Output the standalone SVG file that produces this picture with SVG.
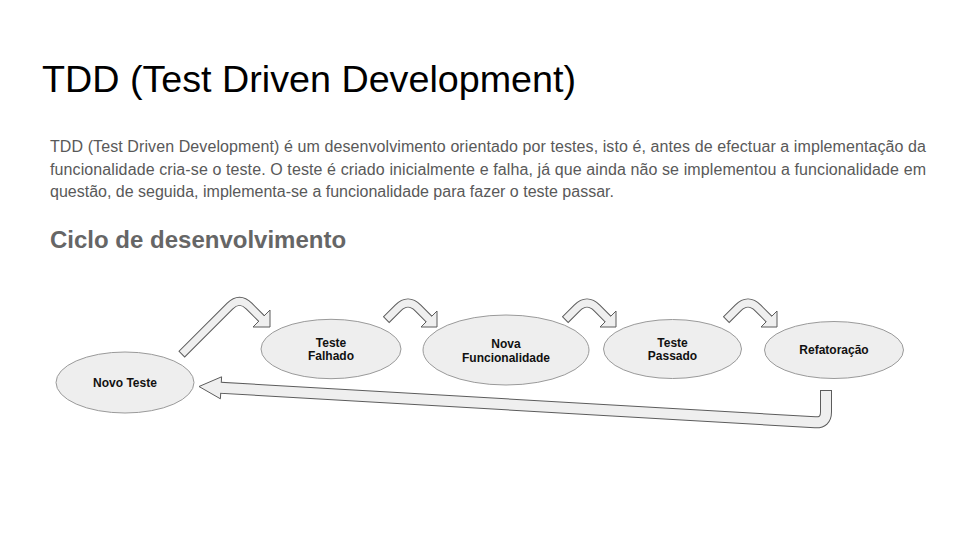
<svg xmlns="http://www.w3.org/2000/svg" xmlns:xlink="http://www.w3.org/1999/xlink" width="960" height="540" viewBox="0 0 960 540">
<style>
.title{font-family:"Liberation Sans",Arial,sans-serif;font-size:37.7px;fill:#000}
.para{font-family:"Liberation Sans",Arial,sans-serif;font-size:16px;fill:#595959}
.head{font-family:"Liberation Sans",Arial,sans-serif;font-size:24px;font-weight:bold;fill:#666666}
.node ellipse{fill:#eeeeee;stroke:#9a9a9a;stroke-width:1}
.node text{font-family:"Liberation Sans",Arial,sans-serif;font-size:12px;font-weight:bold;fill:#111;text-anchor:middle}
.bo{fill:none;stroke:#5c5c5c;stroke-linejoin:round}
.bi{fill:none;stroke:#efefef;stroke-linejoin:round}
.ah{fill:#efefef;stroke:#5c5c5c;stroke-width:1;stroke-linejoin:miter}
</style>
<defs>
<g id="smallArrow">
<path class="bo" stroke-width="9" d="M386,320 L398,308 Q408,298 418,308 L429,319"/>
<polygon class="ah" points="437,311 437,327 421,327"/>
<path class="bi" stroke-width="7" d="M386.7,319.3 L398,308 Q408,298 418,308 L430.2,320.2"/>
</g>
</defs>
<rect width="960" height="540" fill="#ffffff"/>
<text class="title" x="42" y="92">TDD (Test Driven Development)</text>
<text class="para" x="50" y="152" textLength="876" lengthAdjust="spacing">TDD (Test Driven Development) é um desenvolvimento orientado por testes, isto é, antes de efectuar a implementação da</text>
<text class="para" x="50" y="175" textLength="876" lengthAdjust="spacing">funcionalidade cria-se o teste. O teste é criado inicialmente e falha, já que ainda não se implementou a funcionalidade em</text>
<text class="para" x="50" y="197">questão, de seguida, implementa-se a funcionalidade para fazer o teste passar.</text>
<text class="head" x="50" y="248">Ciclo de desenvolvimento</text>

<g id="connectors">
<g id="arrow1">
<path class="bo" stroke-width="9" d="M181.5,354.5 L230,306 Q239.5,296.5 249,306 L261.5,318.5"/>
<polygon class="ah" points="270,310 270,327 253,327"/>
<path class="bi" stroke-width="7" d="M182.2,353.8 L230,306 Q239.5,296.5 249,306 L262.6,319.6"/>
</g>
<use id="arrow2" xlink:href="#smallArrow" href="#smallArrow"/>
<use id="arrow3" xlink:href="#smallArrow" href="#smallArrow" transform="translate(179,0)"/>
<use id="arrow4" xlink:href="#smallArrow" href="#smallArrow" transform="translate(340,0)"/>
<g id="arrowBack">
<path class="bo" stroke-width="12" d="M826,390 L826,412 Q826,422.9 815,422.3 L221,387.8"/>
<polygon class="ah" points="199,386.5 221.6,376.8 220.4,398.8"/>
<path class="bi" stroke-width="10" d="M826,391 L826,412 Q826,422.9 815,422.3 L219.5,387.7"/>
</g>
</g>

<g id="node-novo-teste" class="node">
<ellipse cx="125" cy="382.5" rx="69" ry="30.5"/>
<text x="125" y="387">Novo Teste</text>
</g>
<g id="node-teste-falhado" class="node">
<ellipse cx="331" cy="349" rx="70" ry="29.7"/>
<text x="331" y="346.5">Teste</text>
<text x="331" y="360">Falhado</text>
</g>
<g id="node-nova-funcionalidade" class="node">
<ellipse cx="506" cy="350" rx="83" ry="35"/>
<text x="506" y="348">Nova</text>
<text x="506" y="361.5">Funcionalidade</text>
</g>
<g id="node-teste-passado" class="node">
<ellipse cx="672.5" cy="349" rx="69" ry="29.5"/>
<text x="672.5" y="346.5">Teste</text>
<text x="672.5" y="360">Passado</text>
</g>
<g id="node-refatoracao" class="node">
<ellipse cx="834" cy="350" rx="69.5" ry="28.5"/>
<text x="834" y="353.5">Refatoração</text>
</g>
</svg>
